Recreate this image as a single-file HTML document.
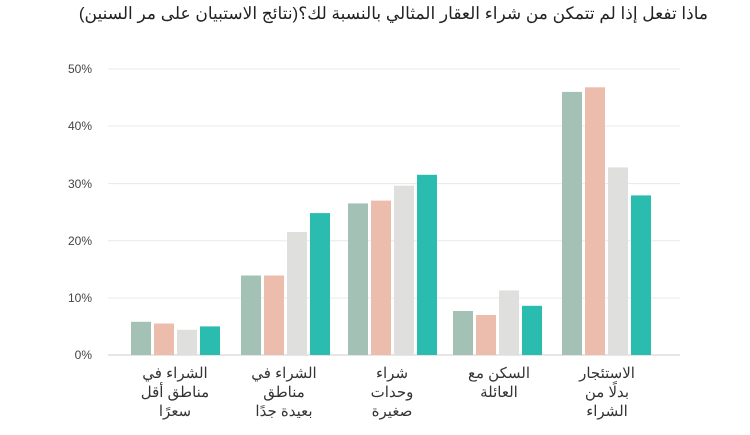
<!DOCTYPE html>
<html><head><meta charset="utf-8"><style>
body{margin:0;background:#fff;width:750px;height:430px;overflow:hidden;font-family:"Liberation Sans","Noto Sans CJK SC",sans-serif;position:relative}
.t{position:absolute;right:42px;top:4px;font-size:17px;color:#222;direction:rtl;white-space:nowrap}
</style></head><body>
<div class="t">ماذا تفعل إذا لم تتمكن من شراء العقار المثالي بالنسبة لك؟(نتائج الاستبيان على مر السنين)</div>
<svg width="750" height="430" xmlns="http://www.w3.org/2000/svg" font-family="Liberation Sans, Noto Sans CJK SC, sans-serif">
<g stroke="#e8e8e8" stroke-width="1">
<line x1="108" x2="680" y1="69" y2="69"/><line x1="108" x2="680" y1="126" y2="126"/><line x1="108" x2="680" y1="183.6" y2="183.6"/><line x1="108" x2="680" y1="240.8" y2="240.8"/><line x1="108" x2="680" y1="298" y2="298"/>
</g>
<line x1="108" x2="680" y1="355" y2="355" stroke="#ccc"/>
<g font-size="12" fill="#444" text-anchor="end">
<text x="92" y="73">50%</text><text x="92" y="130">40%</text><text x="92" y="188">30%</text><text x="92" y="245">20%</text><text x="92" y="302">10%</text><text x="92" y="359">0%</text>
</g>
<g font-size="15" fill="#333" text-anchor="middle">
<text x="175" y="378">الشراء في</text><text x="175" y="397">مناطق أقل</text><text x="175" y="416">سعرًا</text>
<text x="284" y="378">الشراء في</text><text x="284" y="397">مناطق</text><text x="284" y="416">بعيدة جدًا</text>
<text x="392" y="378">شراء</text><text x="392" y="397">وحدات</text><text x="392" y="416">صغيرة</text>
<text x="499" y="378">السكن مع</text><text x="499" y="397">العائلة</text>
<text x="607" y="378">الاستئجار</text><text x="607" y="397">بدلًا من</text><text x="607" y="416">الشراء</text>
</g>
<g>
<rect x="131" y="321.8" width="20" height="33.2" fill="#a3c1b5"/><rect x="154" y="323.5" width="20" height="31.5" fill="#ecbcac"/><rect x="177" y="329.8" width="20" height="25.2" fill="#dfdfdd"/><rect x="200" y="326.4" width="20" height="28.6" fill="#2bbcb0"/>
<rect x="241" y="275.5" width="20" height="79.5" fill="#a3c1b5"/><rect x="264" y="275.5" width="20" height="79.5" fill="#ecbcac"/><rect x="287" y="232" width="20" height="123" fill="#dfdfdd"/><rect x="310" y="213.1" width="20" height="141.9" fill="#2bbcb0"/>
<rect x="348" y="203.4" width="20" height="151.6" fill="#a3c1b5"/><rect x="371" y="200.6" width="20" height="154.4" fill="#ecbcac"/><rect x="394" y="185.7" width="20" height="169.3" fill="#dfdfdd"/><rect x="417" y="174.8" width="20" height="180.2" fill="#2bbcb0"/>
<rect x="453" y="311" width="20" height="44" fill="#a3c1b5"/><rect x="476" y="315" width="20" height="40" fill="#ecbcac"/><rect x="499" y="290.4" width="20" height="64.6" fill="#dfdfdd"/><rect x="522" y="305.8" width="20" height="49.2" fill="#2bbcb0"/>
<rect x="562" y="91.9" width="20" height="263.1" fill="#a3c1b5"/><rect x="585" y="87.3" width="20" height="267.7" fill="#ecbcac"/><rect x="608" y="167.4" width="20" height="187.6" fill="#dfdfdd"/><rect x="631" y="195.4" width="20" height="159.6" fill="#2bbcb0"/>
</g>
</svg>
</body></html>
